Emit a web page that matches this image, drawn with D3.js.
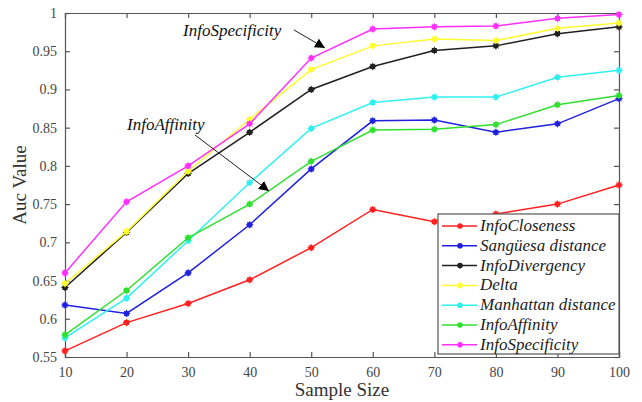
<!DOCTYPE html>
<html><head><meta charset="utf-8">
<script src="https://cdn.jsdelivr.net/npm/d3@7"></script>
<style>body{margin:0;background:#fff}svg{display:block}#warm{position:absolute;left:0;top:0;opacity:0}</style>
</head><body>
<script>
const sampleSizes = [10,20,30,40,50,60,70,80,90,100];
const infoCloseness   = [0.558,0.595,0.620,0.651,0.693,0.743,0.727,0.737,0.750,0.775];
const sanguesa        = [0.618,0.607,0.660,0.723,0.796,0.859,0.860,0.844,0.855,0.888];
const infoDivergency  = [0.641,0.713,0.790,0.844,0.900,0.930,0.951,0.957,0.973,0.982];
const delta           = [0.646,0.714,0.793,0.861,0.926,0.957,0.966,0.964,0.980,0.987];
const manhattan       = [0.575,0.627,0.702,0.778,0.849,0.883,0.890,0.890,0.916,0.925];
const infoAffinity    = [0.579,0.637,0.706,0.750,0.806,0.847,0.848,0.854,0.880,0.892];
const infoSpecificity = [0.660,0.753,0.800,0.855,0.941,0.979,0.982,0.983,0.993,0.998];
const seriesNames  = ["InfoCloseness","Sangüesa distance","InfoDivergency","Delta","Manhattan distance","InfoAffinity","InfoSpecificity"];
const seriesColors = ["#ff2020","#2020e0","#202020","#ffff30","#30f0f0","#30e030","#ff30ff"];
const seriesValues = [infoCloseness,sanguesa,infoDivergency,delta,manhattan,infoAffinity,infoSpecificity];
const yTicks = [0.55,0.6,0.65,0.7,0.75,0.8,0.85,0.9,0.95,1];

const W=642,H=402, L=65,R=619,T=13,B=357;
const FF="Liberation Serif";

// warm up font lookups before drawing
const warm=d3.select("body").append("svg").attr("id","warm").attr("width",10).attr("height",10);
["normal","italic"].forEach(st=>[14,17,19,24].forEach(sz=>{
  const t=warm.append("text").attr("x",0).attr("y",5).attr("font-family",FF).attr("font-style",st).attr("font-size",sz).text("Aa0ü");
  t.node().getComputedTextLength();
}));
void document.body.offsetHeight;

const svg=d3.select("body").append("svg").attr("width",W).attr("height",H).attr("font-family",FF);
const x=d3.scaleLinear().domain([10,100]).range([L,R]);
const y=d3.scaleLinear().domain([0.55,1]).range([B,T]);
const axisCol="#555";

svg.append("defs").append("marker").attr("id","ah").attr("viewBox","0 0 10 10")
  .attr("refX",10).attr("refY",5).attr("markerWidth",10).attr("markerHeight",10)
  .attr("markerUnits","userSpaceOnUse").attr("orient","auto")
  .append("path").attr("d","M0,0 L10,5 L0,10 Z").attr("fill","#000");

const fmtY = d => d===1?"1":String(+d.toFixed(2));
const ax=svg.append("g").attr("transform",`translate(0,${B})`).call(d3.axisBottom(x).tickValues(sampleSizes).tickSize(-5).tickPadding(10).tickFormat(d3.format("d")));
const ay=svg.append("g").attr("transform",`translate(${L},0)`).call(d3.axisLeft(y).tickValues(yTicks).tickSize(-5).tickPadding(8).tickFormat(fmtY));
const axT=svg.append("g").attr("transform",`translate(0,${T})`).call(d3.axisTop(x).tickValues(sampleSizes).tickSize(-5).tickFormat(""));
const ayR=svg.append("g").attr("transform",`translate(${R},0)`).call(d3.axisRight(y).tickValues(yTicks).tickSize(-5).tickFormat(""));
[ax,ay,axT,ayR].forEach(g=>{
  g.attr("font-family",FF).attr("font-size",14);
  g.selectAll("path,line").attr("stroke",axisCol).attr("stroke-width",1.2);
  g.selectAll("text").attr("fill","#444").attr("font-size",14);
});

const line=d3.line().x((d,i)=>x(sampleSizes[i])).y(d=>y(d));
function marker(g,cx,cy,c){
  g.append("circle").attr("cx",cx).attr("cy",cy).attr("r",2.8).attr("fill",c);
  const s=3.6;
  [[0,s],[s,0],[s*0.7,s*0.7],[s*0.7,-s*0.7]].forEach(([dx,dy])=>{
    g.append("line").attr("x1",cx-dx).attr("y1",cy-dy).attr("x2",cx+dx).attr("y2",cy+dy)
     .attr("stroke",c).attr("stroke-width",1);
  });
}
seriesValues.forEach((vals,k)=>{
  const c=seriesColors[k];
  svg.append("path").datum(vals).attr("d",line).attr("fill","none").attr("stroke",c).attr("stroke-width",1.5);
  const g=svg.append("g");
  vals.forEach((v,i)=>marker(g,x(sampleSizes[i]),y(v),c));
});

svg.append("text").attr("x",(L+R)/2).attr("y",396).attr("text-anchor","middle")
  .attr("font-size",19).attr("fill","#333").text("Sample Size");
svg.append("text").attr("transform",`translate(26,${(T+B)/2}) rotate(-90)`).attr("text-anchor","middle")
  .attr("font-size",19).attr("fill","#333").text("Auc Value");

svg.append("text").attr("x",183).attr("y",36).attr("font-style","italic")
  .attr("font-size",17).attr("fill","#111").text("InfoSpecificity");
svg.append("line").attr("x1",294).attr("y1",30).attr("x2",325).attr("y2",48)
  .attr("stroke","#222").attr("stroke-width",1).attr("marker-end","url(#ah)");
svg.append("text").attr("x",127).attr("y",130).attr("font-style","italic")
  .attr("font-size",17).attr("fill","#111").text("InfoAffinity");
svg.append("line").attr("x1",195).attr("y1",135).attr("x2",269).attr("y2",191)
  .attr("stroke","#222").attr("stroke-width",1).attr("marker-end","url(#ah)");

const lg=svg.append("g");
lg.append("rect").attr("x",438).attr("y",214).attr("width",181).attr("height",140)
  .attr("fill","#fff").attr("stroke",axisCol).attr("stroke-width",1.2);
seriesNames.forEach((n,k)=>{
  const yy=226+k*19.8, c=seriesColors[k];
  lg.append("line").attr("x1",442).attr("x2",477).attr("y1",yy).attr("y2",yy).attr("stroke",c).attr("stroke-width",1.5);
  lg.append("circle").attr("cx",460).attr("cy",yy).attr("r",2.8).attr("fill",c);
  lg.append("text").attr("x",480).attr("y",yy+5).attr("font-style","italic")
    .attr("font-size",17).attr("fill","#222").text(n);
});
svg.selectAll("text").attr("font-family",FF);
</script>
</body></html>
